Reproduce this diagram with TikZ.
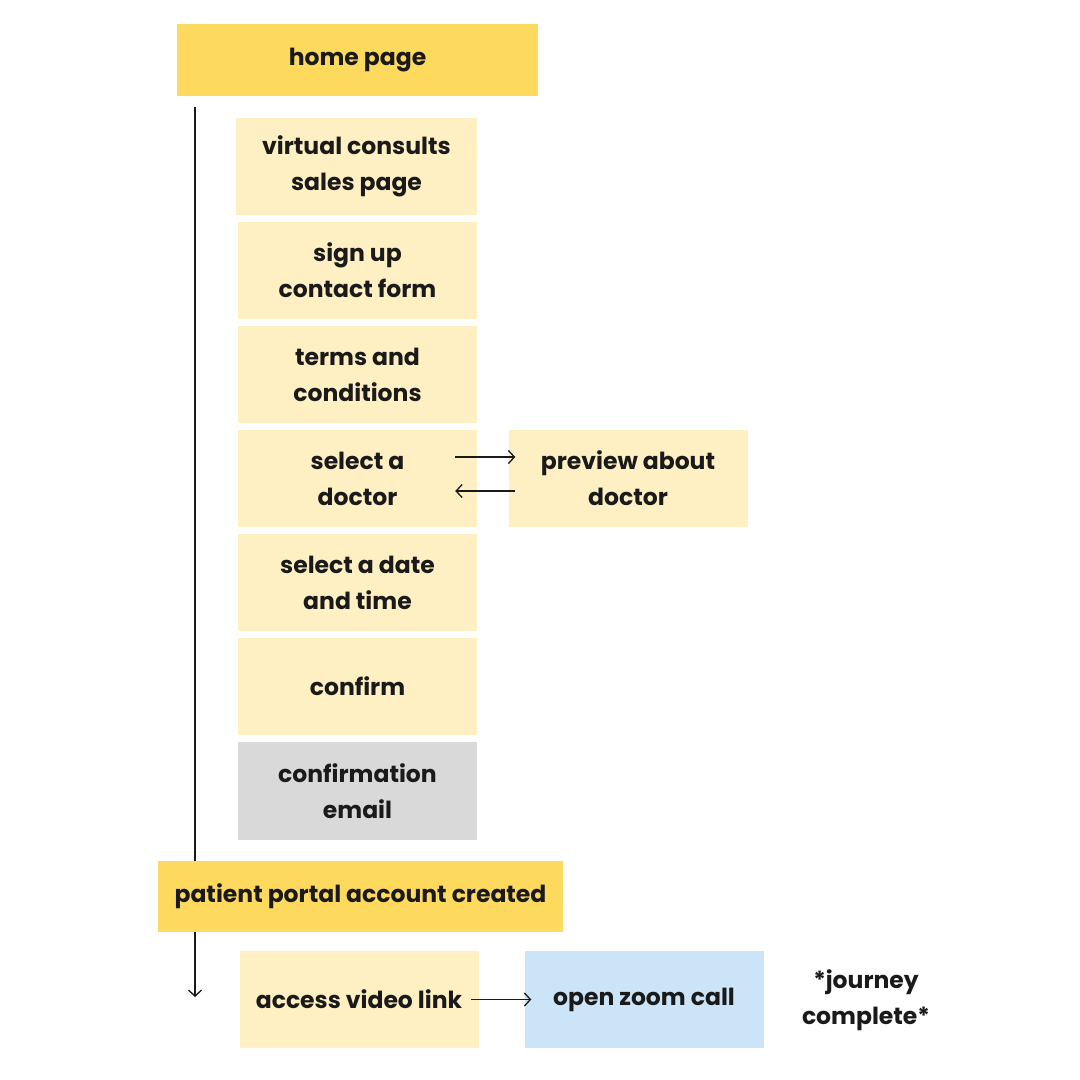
\documentclass[tikz,border=0pt]{standalone}
\usepackage{fontspec}
\setmainfont{Poppins}
\usetikzlibrary{arrows.meta}
\definecolor{mainyellow}{HTML}{FDD95E}
\definecolor{paleyellow}{HTML}{FFF0C4}
\definecolor{palegray}{HTML}{D9D9D9}
\definecolor{paleblue}{HTML}{CCE4F7}
\definecolor{inkblack}{HTML}{1A1A1A}
\tikzset{
  stage/.style={fill=mainyellow, minimum width=361pt, minimum height=72pt, inner sep=0pt,
    font=\fontsize{23.5}{36}\selectfont\bfseries, text=inkblack, align=center},
  pagebox/.style={fill=paleyellow, minimum width=239pt, minimum height=97pt, inner sep=0pt,
    font=\fontsize{23.5}{36}\selectfont\bfseries, text=inkblack, align=center},
  flow/.style={line width=1.3pt, draw=inkblack, -{Straight Barb[length=6pt,width=13pt]}}
}
\begin{document}
\begin{tikzpicture}[x=1pt,y=-1pt]
  \useasboundingbox[fill=white] (0,0) rectangle (1080,1080);
  % main stages
  \node[stage] (home) at (357.5,60) {home page};
  \node[stage, minimum width=405pt, minimum height=71pt] (portal) at (360.5,896.5) {patient portal account created};
  % booking pages
  \node[pagebox, minimum width=241pt] (sales) at (356.5,166.5) {virtual consults\\sales page};
  \node[pagebox] (signup) at (357.5,270.5) {sign up\\contact form};
  \node[pagebox] (terms) at (357.5,374.5) {terms and\\conditions};
  \node[pagebox] (doctor) at (357.5,478.5) {select a\\doctor};
  \node[pagebox] (preview) at (628,478.5) {preview about\\doctor};
  \node[pagebox] (date) at (357.5,582.5) {select a date\\and time};
  \node[pagebox] (confirm) at (357.5,686.5) {confirm};
  \node[pagebox, fill=palegray, minimum height=98pt] (email) at (357.5,791) {confirmation\\email};
  % after sign up
  \node[pagebox] (video) at (359,999.5) {access video link};
  \node[pagebox, fill=paleblue] (zoom) at (644,999.5) {open zoom call};
  \node[font=\fontsize{23.5}{36}\selectfont\bfseries, text=inkblack, align=center] (done) at (866,1000) {*journey\\complete*};
  % timeline
  \coordinate (top) at (195,107);
  \coordinate (bottom) at (195,997);
  \draw[line width=1.3pt, draw=inkblack] (top) -- (top |- portal.north);
  \draw[flow] (bottom |- portal.south) -- (bottom);
  % side arrows
  \draw[flow] ([xshift=-22pt,yshift=21.5pt]doctor.east) -- ([xshift=7pt,yshift=21.5pt]preview.west);
  \draw[flow] ([xshift=7pt,yshift=-12.5pt]preview.west) -- ([xshift=-22pt,yshift=-12.5pt]doctor.east);
  \draw[flow] ([xshift=-8pt]video.east) -- ([xshift=7pt]zoom.west);
\end{tikzpicture}
\end{document}
